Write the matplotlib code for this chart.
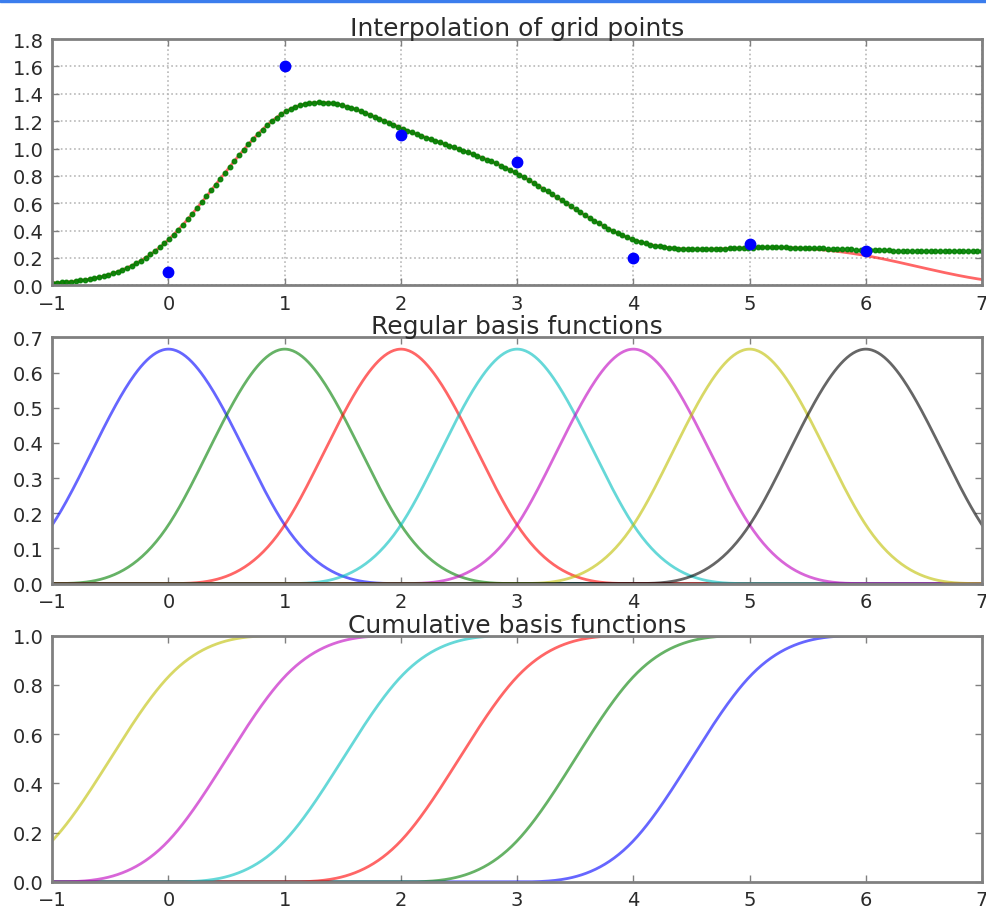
import numpy as np
import matplotlib
matplotlib.use('Agg')
import matplotlib.pyplot as plt
from matplotlib.patches import Rectangle

# grid values to interpolate
grid_x = [0, 1, 2, 3, 4, 5, 6]
grid_y = [0.1, 1.6, 1.1, 0.9, 0.2, 0.3, 0.25]

basis_colors = ['b', 'g', 'r', 'c', 'm', 'y', 'k']
cumul_starts = [5, 4, 3, 2, 1, 0]   # first grid index of each cumulative basis
x_ticks = [-1, 0, 1, 2, 3, 4, 5, 6, 7]

TEXT = '#2a2a2a'
SPINE = '#808080'


def bspline(t):
    # cubic B-spline centered at 0, support (-2, 2)
    a = np.abs(t)
    out = np.zeros_like(a)
    inner = a < 1
    outer = (a >= 1) & (a < 2)
    out[inner] = 2 / 3 - a[inner] ** 2 + a[inner] ** 3 / 2
    out[outer] = (2 - a[outer]) ** 3 / 6
    return out


def cumulative(t, j):
    # sum of all basis functions from index j upward
    return sum(bspline(t - k) for k in range(j, j + 12))


def style_axes(ax, yticks):
    ax.set_xlim(-1, 7)
    ax.set_xticks(x_ticks)
    ax.set_yticks(yticks)
    ax.set_ylim(yticks[0], yticks[-1])
    ax.tick_params(direction='in', top=True, right=True, length=5,
                   width=1, color=SPINE, labelsize=14, labelcolor=TEXT, pad=6)
    ax.set_yticklabels(['%.1f' % v for v in yticks])
    for s in ax.spines.values():
        s.set_color(SPINE)
        s.set_linewidth(2)


x = np.linspace(-1, 7, 200)
xf = np.linspace(-1, 7, 600)

fig, axes = plt.subplots(3, 1, figsize=(9.86, 9.12), dpi=100)
fig.subplots_adjust(left=0.053, right=0.996, bottom=0.032, top=0.956, hspace=0.212)

# --- interpolation of the grid points
ax = axes[0]
spline = sum(c * bspline(x - k) for k, c in zip(grid_x, grid_y))
coef = [grid_y[0]] + [grid_y[i] - grid_y[i - 1] for i in range(1, len(grid_y))]
cumul = sum(d * cumulative(x, j) for j, d in zip(grid_x, coef))
ax.plot(x, spline, color='r', alpha=0.6, lw=2)
ax.plot(x, cumul, 'g.', ms=6.5, alpha=0.9)
ax.plot(grid_x, grid_y, 'o', color='b', mec='b', ms=7.5)
ax.grid(True, ls=':', color='#b8b8b8', lw=1.2)
style_axes(ax, [0.0, 0.2, 0.4, 0.6, 0.8, 1.0, 1.2, 1.4, 1.6, 1.8])
ax.set_title('Interpolation of grid points', fontsize=18, color=TEXT, pad=3)

# --- regular basis functions
ax = axes[1]
for k, col in zip(grid_x, basis_colors):
    ax.plot(xf, bspline(xf - k), color=col, alpha=0.6, lw=2)
style_axes(ax, [0.0, 0.1, 0.2, 0.3, 0.4, 0.5, 0.6, 0.7])
ax.set_title('Regular basis functions', fontsize=18, color=TEXT, pad=3)

# --- cumulative basis functions
ax = axes[2]
for j, col in zip(cumul_starts, basis_colors):
    ax.plot(xf, cumulative(xf, j), color=col, alpha=0.6, lw=2)
style_axes(ax, [0.0, 0.2, 0.4, 0.6, 0.8, 1.0])
ax.set_title('Cumulative basis functions', fontsize=18, color=TEXT, pad=3)

for a in axes:
    a.set_xticklabels(['\u22121'] + [str(v) for v in x_ticks[1:]])

# blue strip along the top edge
fig.patches.append(Rectangle((0, 0.9965), 1, 0.0035, transform=fig.transFigure,
                             color='#3b7ded', zorder=10))

plt.savefig('out.png', dpi=100, facecolor='white')
